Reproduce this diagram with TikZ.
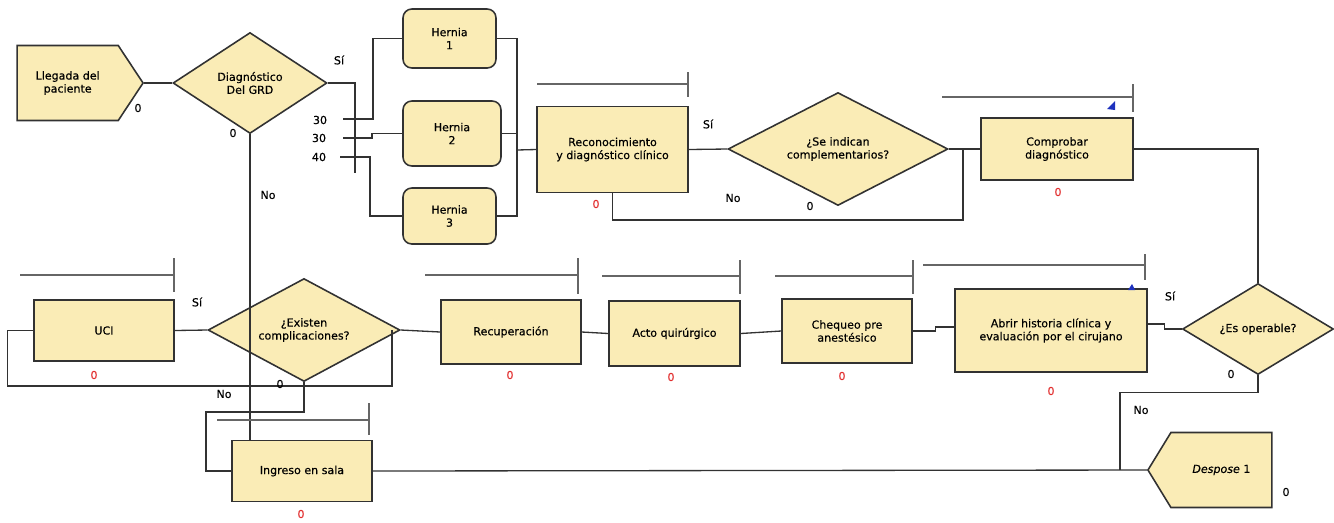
\documentclass[tikz,border=0pt]{standalone}
\usepackage{fontspec}
\setmainfont{DejaVu Sans}[UprightFeatures={FakeBold=0.3}, ItalicFeatures={FakeBold=0.3}]
\usetikzlibrary{shapes.geometric,shapes.symbols}
\definecolor{boxfill}{RGB}{250,236,182}
\definecolor{edgegray}{RGB}{50,50,50}
\definecolor{zerored}{RGB}{225,45,45}
\definecolor{markblue}{RGB}{30,50,190}
\tikzset{
  box/.style={draw=edgegray, line width=0.9pt, fill=boxfill, align=center, inner sep=1pt},
  hernia/.style={box, rounded corners=5pt},
  decision/.style={box, diamond, inner sep=0pt, aspect=1.5},
  flag/.style={box, signal, inner sep=0pt},
  link/.style={draw=edgegray, line width=0.75pt},
  timebar/.style={draw=black!60, line width=0.7pt},
  lbl/.style={inner sep=0pt},
  redzero/.style={lbl, text=zerored},
}
\begin{document}
\begin{tikzpicture}[x=0.02cm, y=-0.02cm, font=\fontsize{6.3}{7.4}\selectfont]
    \useasboundingbox (0,0) rectangle (1334,522);
    \node[flag, signal to=east, signal pointer angle=113, minimum width=2.52cm, minimum height=1.5cm, anchor=east] (llegada) at (144,83) {Llegada del\\paciente};
    \node[decision, minimum width=3.08cm, minimum height=2.02cm] (grd) at (250,83) {Diagnóstico\\Del GRD};
    \node[hernia, minimum width=1.86cm, minimum height=1.18cm] (h1) at (449.5,38.5) {Hernia\\1};
    \node[hernia, minimum width=1.96cm, minimum height=1.3cm] (h2) at (452,133.5) {Hernia\\2};
    \node[hernia, minimum width=1.86cm, minimum height=1.12cm] (h3) at (449.5,216) {Hernia\\3};
    \node[box, minimum width=3.02cm, minimum height=1.72cm] (recon) at (612.5,149.5) {Reconocimiento\\y diagnóstico clínico};
    \node[decision, minimum width=4.4cm, minimum height=2.26cm] (compl) at (838,149) {¿Se indican\\complementarios?};
    \node[box, minimum width=3.04cm, minimum height=1.24cm] (compr) at (1057,149) {Comprobar\\diagnóstico};
    \node[decision, minimum width=3.02cm, minimum height=1.82cm] (opera) at (1258,329) {¿Es operable?};
    \node[box, minimum width=3.84cm, minimum height=1.66cm] (abrir) at (1051,330.5) {Abrir historia clínica y\\evaluación por el cirujano};
    \node[box, minimum width=2.6cm, minimum height=1.28cm] (chequeo) at (847,331) {Chequeo pre\\anestésico};
    \node[box, minimum width=2.62cm, minimum height=1.3cm] (acto) at (674.5,333.5) {Acto quirúrgico};
    \node[box, minimum width=2.8cm, minimum height=1.28cm] (recup) at (511,332) {Recuperación};
    \node[decision, minimum width=3.84cm, minimum height=2.06cm] (compli) at (304,330) {¿Existen\\complicaciones?};
    \node[box, minimum width=2.8cm, minimum height=1.22cm] (uci) at (104,330.5) {UCI};
    \node[box, minimum width=2.8cm, minimum height=1.22cm] (ingreso) at (302,471) {Ingreso en sala};
    \node[flag, signal to=west, signal pointer angle=117, minimum width=2.48cm, minimum height=1.5cm, anchor=west] (despose) at (1147,470) {\textit{Despose} 1};

    \coordinate (sj) at (355,83);
    \coordinate (sjb) at (355,173);
    \coordinate (b1) at (343,119);
    \coordinate (b2) at (343,138);
    \coordinate (b3) at (340,157);
    \coordinate (hj) at (517,150);
    \coordinate (cj) at (963,149);
    \coordinate (nb) at (963,220);
    \coordinate (dj) at (1120,470);
    \coordinate (uloop) at (392,386);
    \coordinate (iloop) at (206,412);

    \draw[link] (llegada.east) -- (grd.west);
    \draw[link] (grd.east) -- (sj) -- (sjb);
    \draw[link] (b1) -- (373,119) |- (h1.west);
    \draw[link] (b2) -- (372,138) -- (372,133.5) -- (h2.west);
    \draw[link] (b3) -- (370,157) |- (h3.west);
    \draw[link] (h1.east) -| (hj) |- (h3.east);
    \draw[link] (h2.east) -- (h2.east -| hj);
    \draw[link] (hj) -- (recon.west);
    \draw[link] (recon.east) -- (compl.west);
    \draw[link] (compl.east) -- (compr.west);
    \draw[link] (recon.south) |- (nb) -- (cj);
    \draw[link] (compr.east) -| (opera.north);
    \draw[link] ([yshift=0.13cm]abrir.east) -- ++(17,0) |- (opera.west);
    \draw[link] (chequeo.east) -- ++(23,0) |- ([yshift=0.07cm]abrir.west);
    \draw[link] (acto.east) -- (chequeo.west);
    \draw[link] (recup.east) -- (acto.west);
    \draw[link] (compli.east) -- (recup.west);
    \draw[link] (uci.east) -- (compli.west);
    \draw[link] (uci.west) -- ++(-26,0) |- (uloop) -- (uloop |- compli.east);
    \draw[link] (compli.south) |- (iloop) |- (ingreso.west);
    \draw[link] (grd.south) -- (grd.south |- ingreso.north);
    \draw[link] (opera.south) -- ++(0,17) -| (dj);
    \draw[link] (ingreso.east) -- (despose.west);

    \draw[timebar] (537,84) -- (688,84) (688,72) -- (688,97);
    \draw[timebar] (942,97) -- (1133,97) (1133,84) -- (1133,112);
    \draw[timebar] (20,275) -- (174,275) (174,258) -- (174,292);
    \draw[timebar] (425,275) -- (578,275) (578,258) -- (578,294);
    \draw[timebar] (602,276) -- (740,276) (740,260) -- (740,294);
    \draw[timebar] (775,276) -- (913,276) (913,260) -- (913,294);
    \draw[timebar] (923,265) -- (1145,265) (1145,254) -- (1145,280);
    \draw[timebar] (217,420) -- (369,420) (369,403) -- (369,435);
    \fill[markblue] (1107,109) -- (1115,101) -- (1115,110) -- cycle;
    \fill[markblue] (1128,290) -- (1132,284) -- (1135,290) -- cycle;

    \node[lbl] (si1) at (339,60) {Sí};
    \node[lbl] (si2) at (708,124) {Sí};
    \node[lbl] (si3) at (197,302) {Sí};
    \node[lbl] (si4) at (1170,296) {Sí};
    \node[lbl] (no1) at (268,195) {No};
    \node[lbl] (no2) at (733,198) {No};
    \node[lbl] (no3) at (224,394) {No};
    \node[lbl] (no4) at (1141,410) {No};
    \node[lbl] (p1) at (320,120) {30};
    \node[lbl] (p2) at (319,138) {30};
    \node[lbl] (p3) at (319,157) {40};
    \node[lbl] (c1) at (138,108) {0};
    \node[lbl] (c2) at (233,133) {0};
    \node[lbl] (c3) at (810,206) {0};
    \node[lbl] (c4) at (280,384) {0};
    \node[lbl] (c5) at (1231,374) {0};
    \node[lbl] (c6) at (1286,492) {0};
    \node[redzero] (r1) at (596,204) {0};
    \node[redzero] (r2) at (1058,192) {0};
    \node[redzero] (r3) at (94,375) {0};
    \node[redzero] (r4) at (510,375) {0};
    \node[redzero] (r5) at (671,377) {0};
    \node[redzero] (r6) at (842,376) {0};
    \node[redzero] (r7) at (1051,391) {0};
    \node[redzero] (r8) at (301,514) {0};
\end{tikzpicture}
\end{document}
